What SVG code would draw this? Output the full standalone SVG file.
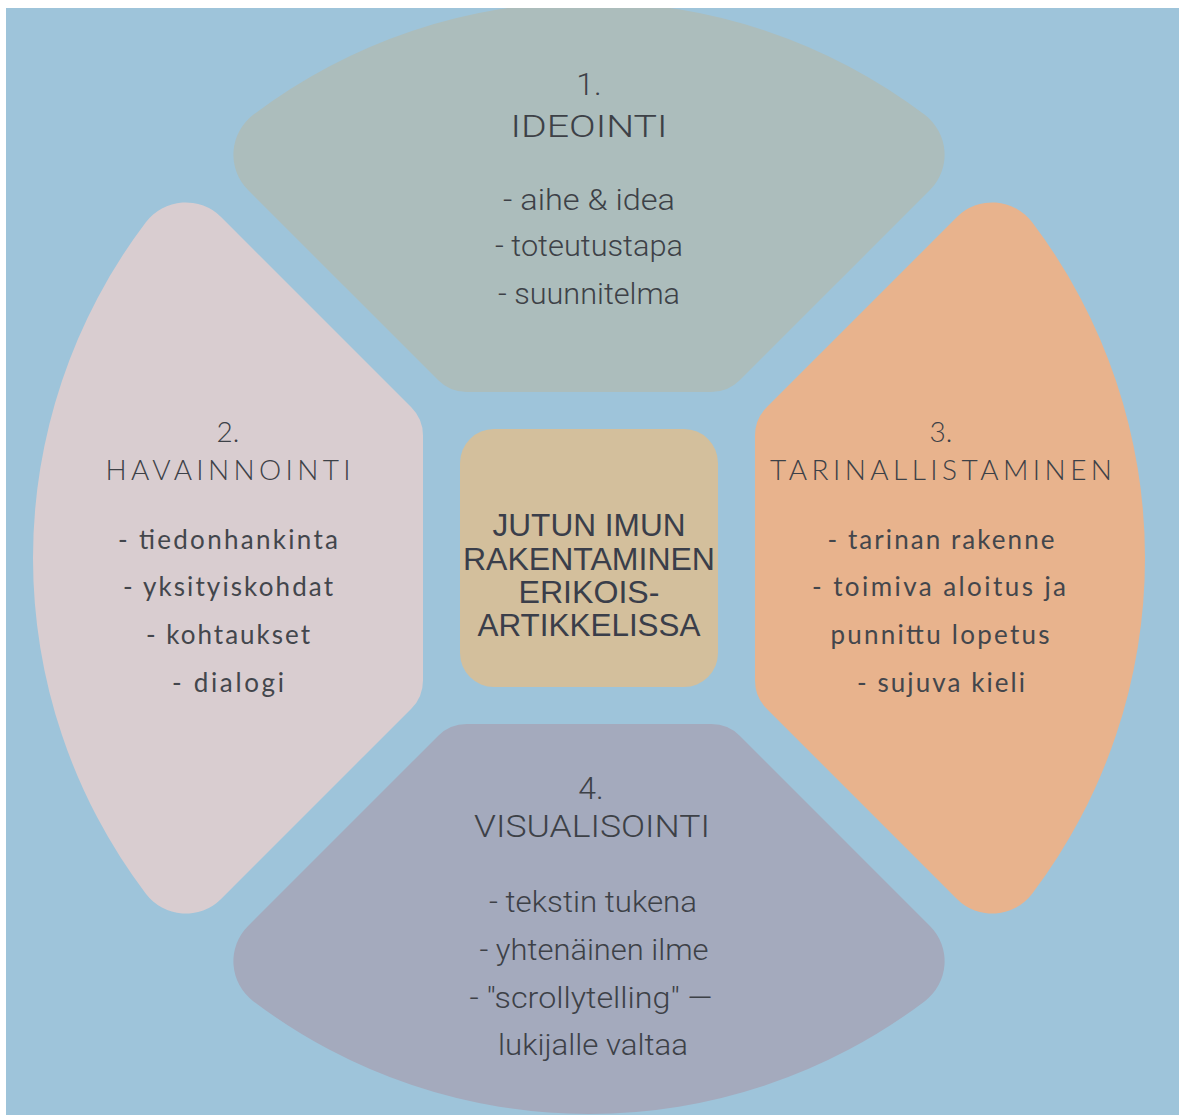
<svg xmlns="http://www.w3.org/2000/svg" xmlns:xlink="http://www.w3.org/1999/xlink" width="1179" height="1115" viewBox="0 0 1179 1115">
<style>
.bg{fill:#9ec4da}
.s1{fill:#acbdbc}.s2{fill:#d9cdd0}.s3{fill:#e8b38d}.s4{fill:#a4aabd}
.ctr{fill:#d3bf9c}
text{fill:#3d4147;text-anchor:middle}
.cl{font-family:Roboto,"Liberation Sans Narrow",sans-serif;font-weight:300;font-size:29px}
.ch{font-family:Roboto,"Liberation Sans Narrow",sans-serif;font-weight:300;font-size:32px}
.wh{font-family:Lato,"Open Sans","DejaVu Sans",sans-serif;font-weight:300;font-size:28px}
.wl{font-family:Lato,"Open Sans","DejaVu Sans",sans-serif;font-weight:400;font-size:26px;fill:#43464c}
.mid{font-family:"Liberation Sans",Arial,sans-serif;font-size:31px;fill:#3a3e4a}
</style>
<defs>
<clipPath id="frame"><rect x="6" y="8" width="1173" height="1107"/></clipPath>
<path id="seg" d="M -122.43 -166 L 122.43 -166 A 40 40 0 0 0 150.72 -177.72 L 340.95 -367.94 A 50 50 0 0 0 335.79 -443.15 A 556 556 0 0 0 -335.79 -443.15 A 50 50 0 0 0 -340.95 -367.94 L -150.72 -177.72 A 40 40 0 0 0 -122.43 -166 Z"/>
</defs>
<rect x="0" y="0" width="1179" height="1115" fill="#ffffff"/>
<rect class="bg" x="6" y="8" width="1173" height="1107"/>
<g clip-path="url(#frame)">
<g id="node-ideointi">
<use xlink:href="#seg" class="s1" transform="translate(589,558)"/>
<text class="ch" x="589" y="95" font-size="28">1.</text>
<text class="ch" x="589" y="137" textLength="157" lengthAdjust="spacingAndGlyphs">IDEOINTI</text>
<text class="cl" x="589" y="210" textLength="172" lengthAdjust="spacingAndGlyphs">- aihe &amp; idea</text>
<text class="cl" x="589" y="256" textLength="188" lengthAdjust="spacingAndGlyphs">- toteutustapa</text>
<text class="cl" x="589" y="304" textLength="182" lengthAdjust="spacingAndGlyphs">- suunnitelma</text>
</g>
<g id="node-havainnointi">
<use xlink:href="#seg" class="s2" transform="translate(589,558) rotate(270)"/>
<text class="wh" x="228" y="442">2.</text>
<text class="wh" x="228" y="480" textLength="245" lengthAdjust="spacing">HAVAINNOINTI</text>
<text class="wl" x="228" y="549" textLength="220" lengthAdjust="spacing">- tiedonhankinta</text>
<text class="wl" x="228" y="596" textLength="210" lengthAdjust="spacing">- yksityiskohdat</text>
<text class="wl" x="228" y="644" textLength="164" lengthAdjust="spacing">- kohtaukset</text>
<text class="wl" x="228" y="692" textLength="112" lengthAdjust="spacing">- dialogi</text>
</g>
<g id="node-tarinallistaminen">
<use xlink:href="#seg" class="s3" transform="translate(589,558) rotate(90)"/>
<text class="wh" x="941" y="442">3.</text>
<text class="wh" x="941" y="480" textLength="342" lengthAdjust="spacing">TARINALLISTAMINEN</text>
<text class="wl" x="941" y="549" textLength="227" lengthAdjust="spacing">- tarinan rakenne</text>
<text class="wl" x="939" y="596" textLength="254" lengthAdjust="spacing">- toimiva aloitus ja</text>
<text class="wl" x="940" y="644" textLength="219" lengthAdjust="spacing">punnittu lopetus</text>
<text class="wl" x="941" y="692" textLength="168" lengthAdjust="spacing">- sujuva kieli</text>
</g>
<g id="node-visualisointi">
<use xlink:href="#seg" class="s4" transform="translate(589,558) rotate(180)"/>
<text class="ch" x="591" y="799" font-size="27">4.</text>
<text class="ch" x="592" y="837" textLength="236" lengthAdjust="spacingAndGlyphs">VISUALISOINTI</text>
<text class="cl" x="593" y="912" textLength="208" lengthAdjust="spacingAndGlyphs">- tekstin tukena</text>
<text class="cl" x="594" y="960" textLength="229" lengthAdjust="spacingAndGlyphs">- yhtenäinen ilme</text>
<text class="cl" x="591" y="1008" textLength="243" lengthAdjust="spacingAndGlyphs">- "scrollytelling" —</text>
<text class="cl" x="593" y="1055" textLength="190" lengthAdjust="spacingAndGlyphs">lukijalle valtaa</text>
</g>
<g id="node-center">
<rect class="ctr" x="460" y="429" width="258" height="258" rx="34"/>
<text class="mid" x="589" y="536" textLength="193" lengthAdjust="spacingAndGlyphs">JUTUN IMUN</text>
<text class="mid" x="589" y="570" textLength="252" lengthAdjust="spacingAndGlyphs">RAKENTAMINEN</text>
<text class="mid" x="589" y="603" textLength="141" lengthAdjust="spacingAndGlyphs">ERIKOIS-</text>
<text class="mid" x="589" y="636" textLength="223" lengthAdjust="spacingAndGlyphs">ARTIKKELISSA</text>
</g>
<g id="connectors"></g>
</g>
</svg>
